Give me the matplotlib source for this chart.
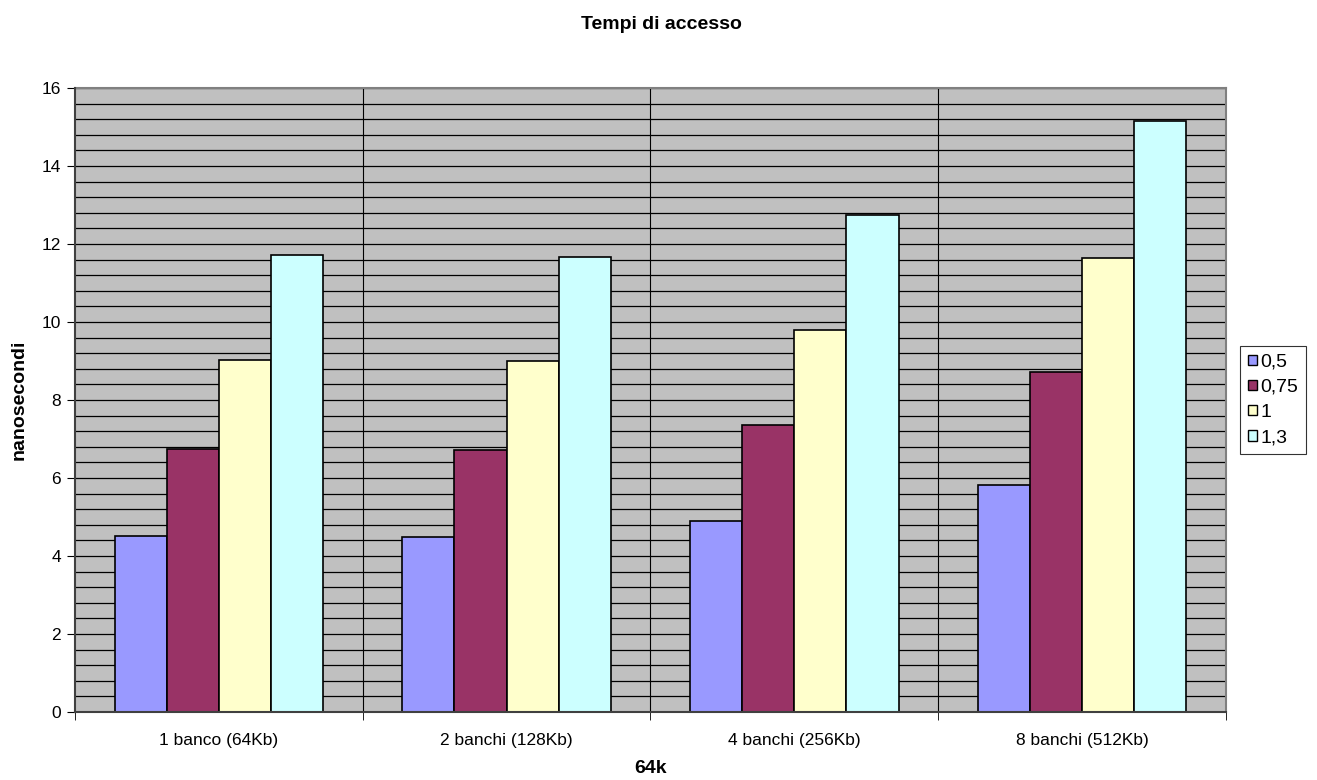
import numpy as np
import matplotlib
matplotlib.use("Agg")
import matplotlib.pyplot as plt
from matplotlib.ticker import MultipleLocator

plt.rcParams["font.family"] = ["Liberation Sans", "DejaVu Sans"]

categories = ["1 banco (64Kb)", "2 banchi (128Kb)", "4 banchi (256Kb)", "8 banchi (512Kb)"]
series_names = ["0,5", "0,75", "1", "1,3"]
t_05 = [4.51, 4.48, 4.89, 5.83]
t_075 = [6.75, 6.73, 7.36, 8.73]
t_1 = [9.03, 8.99, 9.80, 11.65]
t_13 = [11.72, 11.67, 12.75, 15.16]
colors = ["#9999FF", "#993366", "#FFFFCC", "#CCFFFF"]

fig = plt.figure(figsize=(13.17, 7.8), dpi=100)
ax = fig.add_axes([0.0569, 0.0872, 0.874, 0.8])
ax.set_facecolor("#C0C0C0")

x = np.arange(len(categories))
w = 0.181
for i, (name, vals) in enumerate(zip(series_names, [t_05, t_075, t_1, t_13])):
    ax.bar(x + (i - 1.5) * w, vals, width=w, color=colors[i], edgecolor="black",
           linewidth=1.2, label=name, zorder=3)

ax.set_xlim(-0.5, len(categories) - 0.5)
ax.set_ylim(0, 16)

ax.yaxis.set_major_locator(MultipleLocator(2))
ax.yaxis.set_minor_locator(MultipleLocator(0.4))
ax.grid(axis="y", which="both", color="black", linewidth=0.9, zorder=1)

ax.set_xticks(x)
ax.set_xticklabels(categories, fontsize=12.5)
ax.set_xticks(np.arange(-0.5, len(categories)), minor=True)
ax.tick_params(axis="x", which="major", length=0, pad=15)
ax.tick_params(axis="x", which="minor", length=6, direction="out", color="black")
ax.tick_params(axis="y", which="major", length=6, direction="out", labelsize=12.5, pad=4)
ax.tick_params(axis="y", which="minor", length=0)
for b in np.arange(0.5, len(categories) - 0.5):
    ax.axvline(b, color="black", linewidth=0.8, zorder=2)

for side in ["top", "right"]:
    ax.spines[side].set_color("#808080")
    ax.spines[side].set_linewidth(1.5)
for side in ["left", "bottom"]:
    ax.spines[side].set_color("#404040")
    ax.spines[side].set_linewidth(1.5)
    ax.spines[side].set_zorder(4)

ax.set_ylabel("nanosecondi", fontsize=14, fontweight="bold", labelpad=10)
ax.set_xlabel("64k", fontsize=14, fontweight="bold", labelpad=9)
fig.suptitle("Tempi di accesso", fontsize=14, fontweight="bold", x=0.502, y=0.979)

leg = ax.legend(loc="center left", bbox_to_anchor=(1.0122, 0.5), fontsize=14,
                frameon=True, fancybox=False, edgecolor="black", handlelength=0.45,
                handleheight=0.45, handletextpad=0.2, borderpad=0.4,
                borderaxespad=0, labelspacing=0.42)
leg.get_frame().set_linewidth(0.8)
for h in leg.legend_handles:
    h.set_linewidth(1.0)

fig.savefig("out.png", dpi=100)
